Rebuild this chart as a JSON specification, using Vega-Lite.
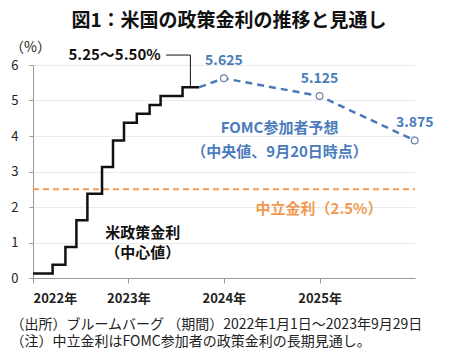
{
  "$schema": "https://vega.github.io/schema/vega-lite/v6.json",
  "width": 382,
  "height": 213,
  "autosize": {"type": "none"},
  "padding": {"left": 33, "top": 65, "right": 35, "bottom": 76},
  "background": "white",
  "config": {
    "font": "Noto Sans CJK JP",
    "view": {"stroke": null}
  },
  "title": {
    "text": "図1：米国の政策金利の推移と見通し",
    "fontSize": 19,
    "fontWeight": "bold",
    "color": "#111",
    "anchor": "middle",
    "frame": "group",
    "dx": 5,
    "offset": 9,
    "font": "Noto Sans CJK JP"
  },
  "datasets": {
    "neutral": [
      {"date": "2022-01-01", "value": 2.5},
      {"date": "2026-01-01", "value": 2.5}
    ],
    "rate": [
      {"date": "2022-01-01", "value": 0.125},
      {"date": "2022-03-17", "value": 0.375},
      {"date": "2022-05-05", "value": 0.875},
      {"date": "2022-06-16", "value": 1.625},
      {"date": "2022-07-28", "value": 2.375},
      {"date": "2022-09-22", "value": 3.125},
      {"date": "2022-11-03", "value": 3.875},
      {"date": "2022-12-15", "value": 4.375},
      {"date": "2023-02-02", "value": 4.625},
      {"date": "2023-03-23", "value": 4.875},
      {"date": "2023-05-04", "value": 5.125},
      {"date": "2023-07-27", "value": 5.375},
      {"date": "2023-09-29", "value": 5.375}
    ],
    "fomc": [
      {"date": "2023-09-29", "value": 5.375, "label": ""},
      {"date": "2024-01-01", "value": 5.625, "label": "5.625"},
      {"date": "2025-01-01", "value": 5.125, "label": "5.125"},
      {"date": "2025-12-31", "value": 3.875, "label": "3.875"}
    ],
    "leader": [
      {"date": "2023-05-25", "value": 6.28},
      {"date": "2023-08-26", "value": 6.28},
      {"date": "2023-08-26", "value": 5.375}
    ],
    "notes": [
      {"date": "2022-11-09", "value": 6.28, "text": "5.25〜5.50%", "group": "black"},
      {"date": "2023-02-25", "value": 1.27, "text": "米政策金利", "group": "black"},
      {"date": "2023-02-25", "value": 0.7, "text": "（中心値）", "group": "black"},
      {"date": "2024-08-01", "value": 4.22, "text": "FOMC参加者予想", "group": "blue"},
      {"date": "2024-08-01", "value": 3.55, "text": "（中央値、9月20日時点）", "group": "blue"},
      {"date": "2024-12-30", "value": 1.94, "text": "中立金利（2.5%）", "group": "orange"}
    ]
  },
  "encoding": {
    "x": {
      "field": "date",
      "type": "temporal",
      "scale": {"domain": [{"year": 2022, "month": 1, "date": 1}, {"year": 2026, "month": 1, "date": 1}]},
      "axis": {
        "values": [{"year": 2022, "month": 1, "date": 1}, {"year": 2023, "month": 1, "date": 1}, {"year": 2024, "month": 1, "date": 1}, {"year": 2025, "month": 1, "date": 1}],
        "format": "%Y年",
        "grid": false,
        "domainColor": "#999",
        "tickColor": "#999",
        "tickSize": 5,
        "labelPadding": 9,
        "labelFontSize": 13,
        "labelFontWeight": "bold",
        "labelColor": "#222",
        "labelFont": "Noto Sans CJK JP",
        "title": ["（出所）ブルームバーグ （期間）2022年1月1日〜2023年9月29日", "（注）中立金利はFOMC参加者の政策金利の長期見通し。"],
        "titleAnchor": "start",
        "titleAlign": "left",
        "titleX": -23,
        "titleY": 39,
        "titleBaseline": "top",
        "titleLineHeight": 17,
        "titleFontSize": 14,
        "titleFontWeight": "normal",
        "titleColor": "#222",
        "titleFont": "Noto Sans CJK JP"
      }
    },
    "y": {
      "field": "value",
      "type": "quantitative",
      "scale": {"domain": [0, 6], "nice": false},
      "axis": {
        "values": [0, 1, 2, 3, 4, 5, 6],
        "labelOverlap": false,
        "grid": true,
        "gridColor": "#ebebeb",
        "gridWidth": 1,
        "domain": true,
        "domainColor": "#999",
        "tickColor": "#999",
        "tickSize": 4,
        "labelPadding": 11,
        "labelFontSize": 13,
        "labelColor": "#222",
        "labelFont": "Noto Sans CJK JP",
        "title": "（%）",
        "titleAngle": 0,
        "titleX": -3,
        "titleY": -18,
        "titleAlign": "center",
        "titleBaseline": "middle",
        "titleFontSize": 14,
        "titleFontWeight": "normal",
        "titleColor": "#222",
        "titleFont": "Noto Sans CJK JP"
      }
    }
  },
  "layer": [
    {
      "data": {"name": "neutral"},
      "mark": {"type": "line", "color": "#ef9a50", "strokeWidth": 2, "strokeDash": [6, 4]}
    },
    {
      "data": {"name": "rate"},
      "mark": {"type": "line", "interpolate": "step-after", "color": "#111", "strokeWidth": 2.5}
    },
    {
      "data": {"name": "fomc"},
      "mark": {"type": "line", "color": "#4a78b8", "strokeWidth": 2.5, "strokeDash": [7, 5]}
    },
    {
      "data": {"name": "fomc"},
      "transform": [{"filter": "datum.label != ''"}],
      "mark": {"type": "point", "shape": "circle", "filled": true, "fill": "white", "stroke": "#6f86a8", "strokeWidth": 1.2, "size": 45, "opacity": 1}
    },
    {
      "data": {"name": "fomc"},
      "transform": [{"filter": "datum.label != ''"}],
      "mark": {"type": "text", "color": "#4a7cbc", "fontSize": 14, "fontWeight": "bold", "dy": -17, "font": "Noto Sans CJK JP"},
      "encoding": {
        "text": {"field": "label"}
      }
    },
    {
      "data": {"name": "leader"},
      "mark": {"type": "line", "color": "#111", "strokeWidth": 1, "clip": false},
      "encoding": {
        "order": {"value": 0}
      }
    },
    {
      "data": {"name": "notes"},
      "mark": {"type": "text", "fontWeight": "bold", "fontSize": 15, "font": "Noto Sans CJK JP", "clip": false},
      "encoding": {
        "text": {"field": "text"},
        "color": {
          "field": "group",
          "type": "nominal",
          "scale": {"domain": ["black", "blue", "orange"], "range": ["#111", "#4a7cbc", "#ef9a50"]},
          "legend": null
        }
      }
    }
  ]
}
